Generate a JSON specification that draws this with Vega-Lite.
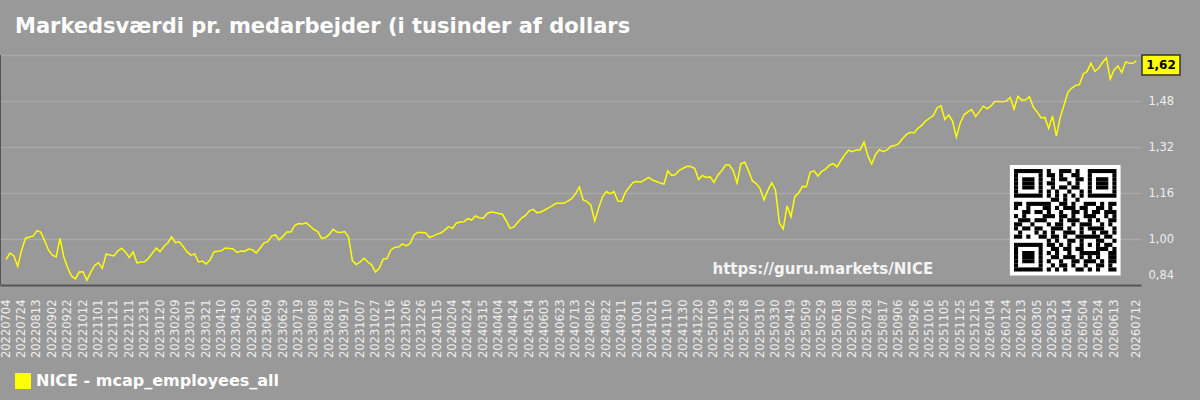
{
"$schema":"https://vega.github.io/schema/vega-lite/v6.json",
"width":1141,"height":230,
"autosize":{"type":"none"},
"padding":{"left":0,"top":55,"right":59,"bottom":115},
"background":"#999999",
"title":{"text":"Markedsværdi pr. medarbejder (i tusinder af dollars","anchor":"start","frame":"group","dx":15,"offset":15,"fontSize":21,"font":"DejaVu Sans","fontWeight":"bold","color":"#ffffff"},
"config":{"view":{"stroke":null},"font":"DejaVu Sans",
"axisX":{"labelOverlap":false,"labelFlush":false,"labelBound":false,"labelAngle":270,"labelFontSize":11.5,"labelColor":"#eeeeee","labelPadding":14,"ticks":false,"grid":false,"domainColor":"#555555","domainWidth":2,"title":null,"tickCount":200},
"axisY":{"title":null,"grid":true,"gridColor":"#a9a9a9","gridWidth":1.5,"domain":false,"ticks":false,"labelPadding":7,"labelFontSize":11.5,"labelColor":"#eeeeee","labelFlush":true,"labelFlushOffset":-5}
},
"datasets":{
"nice":[
{"date":"2022-07-04","value":0.929},{"date":"2022-07-09","value":0.951},{"date":"2022-07-14","value":0.941},{"date":"2022-07-19","value":0.905},{"date":"2022-07-24","value":0.960},{"date":"2022-07-29","value":1.002},{"date":"2022-08-03","value":1.007},{"date":"2022-08-08","value":1.010},{"date":"2022-08-13","value":1.029},{"date":"2022-08-18","value":1.024},{"date":"2022-08-23","value":0.994},{"date":"2022-08-28","value":0.962},{"date":"2022-09-02","value":0.944},{"date":"2022-09-07","value":0.938},{"date":"2022-09-12","value":1.002},{"date":"2022-09-17","value":0.937},{"date":"2022-09-22","value":0.899},{"date":"2022-09-27","value":0.871},{"date":"2022-10-02","value":0.861},{"date":"2022-10-07","value":0.885},{"date":"2022-10-12","value":0.886},{"date":"2022-10-17","value":0.857},{"date":"2022-10-22","value":0.885},{"date":"2022-10-27","value":0.908},{"date":"2022-11-01","value":0.917},{"date":"2022-11-06","value":0.898},{"date":"2022-11-11","value":0.948},{"date":"2022-11-16","value":0.944},{"date":"2022-11-21","value":0.941},{"date":"2022-11-26","value":0.958},{"date":"2022-12-01","value":0.968},{"date":"2022-12-06","value":0.955},{"date":"2022-12-11","value":0.936},{"date":"2022-12-16","value":0.955},{"date":"2022-12-21","value":0.917},{"date":"2022-12-26","value":0.920},{"date":"2022-12-31","value":0.921},
{"date":"2023-01-05","value":0.933},{"date":"2023-01-10","value":0.951},{"date":"2023-01-15","value":0.968},{"date":"2023-01-20","value":0.956},{"date":"2023-01-25","value":0.974},{"date":"2023-01-30","value":0.986},{"date":"2023-02-04","value":1.007},{"date":"2023-02-09","value":0.987},{"date":"2023-02-14","value":0.990},{"date":"2023-02-19","value":0.974},{"date":"2023-02-24","value":0.956},{"date":"2023-03-01","value":0.944},{"date":"2023-03-06","value":0.948},{"date":"2023-03-11","value":0.920},{"date":"2023-03-16","value":0.923},{"date":"2023-03-21","value":0.913},{"date":"2023-03-26","value":0.927},{"date":"2023-03-31","value":0.955},{"date":"2023-04-05","value":0.957},{"date":"2023-04-10","value":0.960},{"date":"2023-04-15","value":0.969},{"date":"2023-04-20","value":0.967},{"date":"2023-04-25","value":0.965},{"date":"2023-04-30","value":0.953},{"date":"2023-05-05","value":0.958},{"date":"2023-05-10","value":0.957},{"date":"2023-05-15","value":0.965},{"date":"2023-05-20","value":0.963},{"date":"2023-05-25","value":0.951},{"date":"2023-05-30","value":0.968},{"date":"2023-06-04","value":0.986},{"date":"2023-06-09","value":0.991},{"date":"2023-06-14","value":1.010},{"date":"2023-06-19","value":1.014},{"date":"2023-06-24","value":0.997},{"date":"2023-06-29","value":1.010},{"date":"2023-07-04","value":1.024},{"date":"2023-07-09","value":1.024},{"date":"2023-07-14","value":1.047},{"date":"2023-07-19","value":1.054},{"date":"2023-07-24","value":1.052},{"date":"2023-07-29","value":1.056},{"date":"2023-08-03","value":1.045},{"date":"2023-08-08","value":1.033},{"date":"2023-08-13","value":1.026},{"date":"2023-08-18","value":1.002},{"date":"2023-08-23","value":1.005},{"date":"2023-08-28","value":1.016},{"date":"2023-09-02","value":1.034},{"date":"2023-09-07","value":1.024},{"date":"2023-09-12","value":1.023},{"date":"2023-09-17","value":1.026},{"date":"2023-09-22","value":1.007},{"date":"2023-09-27","value":0.925},{"date":"2023-10-02","value":0.911},{"date":"2023-10-07","value":0.920},{"date":"2023-10-12","value":0.933},{"date":"2023-10-17","value":0.920},{"date":"2023-10-22","value":0.910},{"date":"2023-10-27","value":0.885},{"date":"2023-11-01","value":0.899},{"date":"2023-11-06","value":0.930},{"date":"2023-11-11","value":0.932},{"date":"2023-11-16","value":0.962},{"date":"2023-11-21","value":0.971},{"date":"2023-11-26","value":0.972},{"date":"2023-12-01","value":0.983},{"date":"2023-12-06","value":0.976},{"date":"2023-12-11","value":0.984},{"date":"2023-12-16","value":1.014},{"date":"2023-12-21","value":1.023},{"date":"2023-12-26","value":1.023},{"date":"2023-12-31","value":1.022},
{"date":"2024-01-05","value":1.006},{"date":"2024-01-10","value":1.010},{"date":"2024-01-15","value":1.017},{"date":"2024-01-20","value":1.021},{"date":"2024-01-25","value":1.031},{"date":"2024-01-30","value":1.043},{"date":"2024-02-04","value":1.037},{"date":"2024-02-09","value":1.055},{"date":"2024-02-14","value":1.059},{"date":"2024-02-19","value":1.060},{"date":"2024-02-24","value":1.071},{"date":"2024-02-29","value":1.066},{"date":"2024-03-05","value":1.080},{"date":"2024-03-10","value":1.074},{"date":"2024-03-15","value":1.072},{"date":"2024-03-20","value":1.088},{"date":"2024-03-25","value":1.094},{"date":"2024-03-30","value":1.092},{"date":"2024-04-04","value":1.089},{"date":"2024-04-09","value":1.086},{"date":"2024-04-14","value":1.063},{"date":"2024-04-19","value":1.037},{"date":"2024-04-24","value":1.042},{"date":"2024-04-29","value":1.058},{"date":"2024-05-04","value":1.073},{"date":"2024-05-09","value":1.082},{"date":"2024-05-14","value":1.098},{"date":"2024-05-19","value":1.103},{"date":"2024-05-24","value":1.091},{"date":"2024-05-29","value":1.094},{"date":"2024-06-03","value":1.101},{"date":"2024-06-08","value":1.108},{"date":"2024-06-13","value":1.116},{"date":"2024-06-18","value":1.124},{"date":"2024-06-23","value":1.124},{"date":"2024-06-28","value":1.124},{"date":"2024-07-03","value":1.132},{"date":"2024-07-08","value":1.140},{"date":"2024-07-13","value":1.157},{"date":"2024-07-18","value":1.181},{"date":"2024-07-23","value":1.136},{"date":"2024-07-28","value":1.130},{"date":"2024-08-02","value":1.118},{"date":"2024-08-07","value":1.063},{"date":"2024-08-12","value":1.107},{"date":"2024-08-17","value":1.146},{"date":"2024-08-22","value":1.165},{"date":"2024-08-27","value":1.158},{"date":"2024-09-01","value":1.165},{"date":"2024-09-06","value":1.132},{"date":"2024-09-11","value":1.131},{"date":"2024-09-16","value":1.163},{"date":"2024-09-21","value":1.181},{"date":"2024-09-26","value":1.197},{"date":"2024-10-01","value":1.200},{"date":"2024-10-06","value":1.198},{"date":"2024-10-11","value":1.206},{"date":"2024-10-16","value":1.214},{"date":"2024-10-21","value":1.205},{"date":"2024-10-26","value":1.200},{"date":"2024-10-31","value":1.195},{"date":"2024-11-05","value":1.191},{"date":"2024-11-10","value":1.237},{"date":"2024-11-15","value":1.221},{"date":"2024-11-20","value":1.224},{"date":"2024-11-25","value":1.239},{"date":"2024-11-30","value":1.246},{"date":"2024-12-05","value":1.253},{"date":"2024-12-10","value":1.252},{"date":"2024-12-15","value":1.245},{"date":"2024-12-20","value":1.207},{"date":"2024-12-25","value":1.221},{"date":"2024-12-30","value":1.214},
{"date":"2025-01-04","value":1.216},{"date":"2025-01-09","value":1.197},{"date":"2025-01-14","value":1.222},{"date":"2025-01-19","value":1.237},{"date":"2025-01-24","value":1.257},{"date":"2025-01-29","value":1.257},{"date":"2025-02-03","value":1.237},{"date":"2025-02-08","value":1.195},{"date":"2025-02-13","value":1.262},{"date":"2025-02-18","value":1.267},{"date":"2025-02-23","value":1.237},{"date":"2025-02-28","value":1.202},{"date":"2025-03-05","value":1.193},{"date":"2025-03-10","value":1.175},{"date":"2025-03-15","value":1.136},{"date":"2025-03-20","value":1.169},{"date":"2025-03-25","value":1.195},{"date":"2025-03-30","value":1.170},{"date":"2025-04-04","value":1.056},{"date":"2025-04-09","value":1.035},{"date":"2025-04-14","value":1.115},{"date":"2025-04-19","value":1.077},{"date":"2025-04-24","value":1.147},{"date":"2025-04-29","value":1.160},{"date":"2025-05-04","value":1.183},{"date":"2025-05-09","value":1.182},{"date":"2025-05-14","value":1.232},{"date":"2025-05-19","value":1.237},{"date":"2025-05-24","value":1.219},{"date":"2025-05-29","value":1.235},{"date":"2025-06-03","value":1.243},{"date":"2025-06-08","value":1.257},{"date":"2025-06-13","value":1.262},{"date":"2025-06-18","value":1.251},{"date":"2025-06-23","value":1.273},{"date":"2025-06-28","value":1.293},{"date":"2025-07-03","value":1.309},{"date":"2025-07-08","value":1.304},{"date":"2025-07-13","value":1.310},{"date":"2025-07-18","value":1.310},{"date":"2025-07-23","value":1.337},{"date":"2025-07-28","value":1.289},{"date":"2025-08-02","value":1.261},{"date":"2025-08-07","value":1.294},{"date":"2025-08-12","value":1.311},{"date":"2025-08-17","value":1.304},{"date":"2025-08-22","value":1.310},{"date":"2025-08-27","value":1.323},{"date":"2025-09-01","value":1.325},{"date":"2025-09-06","value":1.332},{"date":"2025-09-11","value":1.349},{"date":"2025-09-16","value":1.363},{"date":"2025-09-21","value":1.371},{"date":"2025-09-26","value":1.369},{"date":"2025-10-01","value":1.385},{"date":"2025-10-06","value":1.395},{"date":"2025-10-11","value":1.410},{"date":"2025-10-16","value":1.420},{"date":"2025-10-21","value":1.429},{"date":"2025-10-26","value":1.456},{"date":"2025-10-31","value":1.463},{"date":"2025-11-05","value":1.416},{"date":"2025-11-10","value":1.431},{"date":"2025-11-15","value":1.410},{"date":"2025-11-20","value":1.355},{"date":"2025-11-25","value":1.403},{"date":"2025-11-30","value":1.432},{"date":"2025-12-05","value":1.442},{"date":"2025-12-10","value":1.450},{"date":"2025-12-15","value":1.426},{"date":"2025-12-20","value":1.443},{"date":"2025-12-25","value":1.462},{"date":"2025-12-30","value":1.453},
{"date":"2026-01-04","value":1.463},{"date":"2026-01-09","value":1.478},{"date":"2026-01-14","value":1.478},{"date":"2026-01-19","value":1.477},{"date":"2026-01-24","value":1.480},{"date":"2026-01-29","value":1.492},{"date":"2026-02-03","value":1.452},{"date":"2026-02-08","value":1.496},{"date":"2026-02-13","value":1.483},{"date":"2026-02-18","value":1.484},{"date":"2026-02-23","value":1.495},{"date":"2026-02-28","value":1.459},{"date":"2026-03-05","value":1.442},{"date":"2026-03-10","value":1.422},{"date":"2026-03-15","value":1.423},{"date":"2026-03-20","value":1.385},{"date":"2026-03-25","value":1.428},{"date":"2026-03-30","value":1.358},{"date":"2026-04-04","value":1.423},{"date":"2026-04-09","value":1.466},{"date":"2026-04-14","value":1.511},{"date":"2026-04-19","value":1.525},{"date":"2026-04-24","value":1.534},{"date":"2026-04-29","value":1.537},{"date":"2026-05-04","value":1.574},{"date":"2026-05-09","value":1.583},{"date":"2026-05-14","value":1.611},{"date":"2026-05-19","value":1.583},{"date":"2026-05-24","value":1.594},{"date":"2026-05-29","value":1.614},{"date":"2026-06-03","value":1.630},{"date":"2026-06-08","value":1.556},{"date":"2026-06-13","value":1.588},{"date":"2026-06-18","value":1.602},{"date":"2026-06-23","value":1.579},{"date":"2026-06-28","value":1.616},{"date":"2026-07-03","value":1.611},{"date":"2026-07-08","value":1.612},{"date":"2026-07-12","value":1.620}
],
"last":[{"date":"2026-07-12","value":1.62,"label":"1,62"}],
"qr":[
{"c0":-1,"c1":26,"r0":-1,"r1":26,"k":"light"},
{"c0":0,"c1":7,"r0":0,"r1":1,"k":"dark"},{"c0":8,"c1":9,"r0":0,"r1":1,"k":"dark"},{"c0":11,"c1":14,"r0":0,"r1":1,"k":"dark"},{"c0":15,"c1":16,"r0":0,"r1":1,"k":"dark"},{"c0":18,"c1":25,"r0":0,"r1":1,"k":"dark"},
{"c0":0,"c1":1,"r0":1,"r1":2,"k":"dark"},{"c0":6,"c1":7,"r0":1,"r1":2,"k":"dark"},{"c0":8,"c1":10,"r0":1,"r1":2,"k":"dark"},{"c0":11,"c1":12,"r0":1,"r1":2,"k":"dark"},{"c0":14,"c1":16,"r0":1,"r1":2,"k":"dark"},{"c0":18,"c1":19,"r0":1,"r1":2,"k":"dark"},{"c0":24,"c1":25,"r0":1,"r1":2,"k":"dark"},
{"c0":0,"c1":1,"r0":2,"r1":3,"k":"dark"},{"c0":2,"c1":5,"r0":2,"r1":3,"k":"dark"},{"c0":6,"c1":7,"r0":2,"r1":3,"k":"dark"},{"c0":9,"c1":10,"r0":2,"r1":3,"k":"dark"},{"c0":11,"c1":13,"r0":2,"r1":3,"k":"dark"},{"c0":15,"c1":17,"r0":2,"r1":3,"k":"dark"},{"c0":18,"c1":19,"r0":2,"r1":3,"k":"dark"},{"c0":20,"c1":23,"r0":2,"r1":3,"k":"dark"},{"c0":24,"c1":25,"r0":2,"r1":3,"k":"dark"},
{"c0":0,"c1":1,"r0":3,"r1":4,"k":"dark"},{"c0":2,"c1":5,"r0":3,"r1":4,"k":"dark"},{"c0":6,"c1":7,"r0":3,"r1":4,"k":"dark"},{"c0":8,"c1":10,"r0":3,"r1":4,"k":"dark"},{"c0":13,"c1":14,"r0":3,"r1":4,"k":"dark"},{"c0":15,"c1":16,"r0":3,"r1":4,"k":"dark"},{"c0":18,"c1":19,"r0":3,"r1":4,"k":"dark"},{"c0":20,"c1":23,"r0":3,"r1":4,"k":"dark"},{"c0":24,"c1":25,"r0":3,"r1":4,"k":"dark"},
{"c0":0,"c1":1,"r0":4,"r1":5,"k":"dark"},{"c0":2,"c1":5,"r0":4,"r1":5,"k":"dark"},{"c0":6,"c1":7,"r0":4,"r1":5,"k":"dark"},{"c0":9,"c1":10,"r0":4,"r1":5,"k":"dark"},{"c0":11,"c1":13,"r0":4,"r1":5,"k":"dark"},{"c0":14,"c1":16,"r0":4,"r1":5,"k":"dark"},{"c0":18,"c1":19,"r0":4,"r1":5,"k":"dark"},{"c0":20,"c1":23,"r0":4,"r1":5,"k":"dark"},{"c0":24,"c1":25,"r0":4,"r1":5,"k":"dark"},
{"c0":0,"c1":1,"r0":5,"r1":6,"k":"dark"},{"c0":6,"c1":7,"r0":5,"r1":6,"k":"dark"},{"c0":8,"c1":9,"r0":5,"r1":6,"k":"dark"},{"c0":10,"c1":11,"r0":5,"r1":6,"k":"dark"},{"c0":13,"c1":14,"r0":5,"r1":6,"k":"dark"},{"c0":16,"c1":17,"r0":5,"r1":6,"k":"dark"},{"c0":18,"c1":19,"r0":5,"r1":6,"k":"dark"},{"c0":24,"c1":25,"r0":5,"r1":6,"k":"dark"},
{"c0":0,"c1":7,"r0":6,"r1":7,"k":"dark"},{"c0":8,"c1":9,"r0":6,"r1":7,"k":"dark"},{"c0":10,"c1":11,"r0":6,"r1":7,"k":"dark"},{"c0":12,"c1":13,"r0":6,"r1":7,"k":"dark"},{"c0":14,"c1":15,"r0":6,"r1":7,"k":"dark"},{"c0":16,"c1":17,"r0":6,"r1":7,"k":"dark"},{"c0":18,"c1":25,"r0":6,"r1":7,"k":"dark"},
{"c0":9,"c1":11,"r0":7,"r1":8,"k":"dark"},{"c0":12,"c1":13,"r0":7,"r1":8,"k":"dark"},{"c0":15,"c1":16,"r0":7,"r1":8,"k":"dark"},
{"c0":0,"c1":2,"r0":8,"r1":9,"k":"dark"},{"c0":3,"c1":9,"r0":8,"r1":9,"k":"dark"},{"c0":11,"c1":13,"r0":8,"r1":9,"k":"dark"},{"c0":14,"c1":15,"r0":8,"r1":9,"k":"dark"},{"c0":17,"c1":20,"r0":8,"r1":9,"k":"dark"},{"c0":21,"c1":22,"r0":8,"r1":9,"k":"dark"},{"c0":23,"c1":25,"r0":8,"r1":9,"k":"dark"},
{"c0":0,"c1":1,"r0":9,"r1":10,"k":"dark"},{"c0":3,"c1":4,"r0":9,"r1":10,"k":"dark"},{"c0":7,"c1":9,"r0":9,"r1":10,"k":"dark"},{"c0":10,"c1":11,"r0":9,"r1":10,"k":"dark"},{"c0":12,"c1":15,"r0":9,"r1":10,"k":"dark"},{"c0":16,"c1":18,"r0":9,"r1":10,"k":"dark"},{"c0":20,"c1":22,"r0":9,"r1":10,"k":"dark"},{"c0":23,"c1":24,"r0":9,"r1":10,"k":"dark"},
{"c0":2,"c1":4,"r0":10,"r1":11,"k":"dark"},{"c0":5,"c1":7,"r0":10,"r1":11,"k":"dark"},{"c0":8,"c1":9,"r0":10,"r1":11,"k":"dark"},{"c0":11,"c1":12,"r0":10,"r1":11,"k":"dark"},{"c0":14,"c1":16,"r0":10,"r1":11,"k":"dark"},{"c0":17,"c1":18,"r0":10,"r1":11,"k":"dark"},{"c0":19,"c1":21,"r0":10,"r1":11,"k":"dark"},{"c0":22,"c1":25,"r0":10,"r1":11,"k":"dark"},
{"c0":0,"c1":1,"r0":11,"r1":12,"k":"dark"},{"c0":2,"c1":3,"r0":11,"r1":12,"k":"dark"},{"c0":7,"c1":10,"r0":11,"r1":12,"k":"dark"},{"c0":11,"c1":13,"r0":11,"r1":12,"k":"dark"},{"c0":14,"c1":15,"r0":11,"r1":12,"k":"dark"},{"c0":17,"c1":20,"r0":11,"r1":12,"k":"dark"},{"c0":22,"c1":23,"r0":11,"r1":12,"k":"dark"},{"c0":24,"c1":25,"r0":11,"r1":12,"k":"dark"},
{"c0":1,"c1":4,"r0":12,"r1":13,"k":"dark"},{"c0":5,"c1":8,"r0":12,"r1":13,"k":"dark"},{"c0":11,"c1":12,"r0":12,"r1":13,"k":"dark"},{"c0":13,"c1":16,"r0":12,"r1":13,"k":"dark"},{"c0":18,"c1":19,"r0":12,"r1":13,"k":"dark"},{"c0":20,"c1":21,"r0":12,"r1":13,"k":"dark"},{"c0":23,"c1":25,"r0":12,"r1":13,"k":"dark"},
{"c0":0,"c1":2,"r0":13,"r1":14,"k":"dark"},{"c0":4,"c1":5,"r0":13,"r1":14,"k":"dark"},{"c0":8,"c1":9,"r0":13,"r1":14,"k":"dark"},{"c0":10,"c1":12,"r0":13,"r1":14,"k":"dark"},{"c0":14,"c1":15,"r0":13,"r1":14,"k":"dark"},{"c0":16,"c1":19,"r0":13,"r1":14,"k":"dark"},{"c0":21,"c1":22,"r0":13,"r1":14,"k":"dark"},{"c0":23,"c1":24,"r0":13,"r1":14,"k":"dark"},
{"c0":0,"c1":1,"r0":14,"r1":15,"k":"dark"},{"c0":2,"c1":4,"r0":14,"r1":15,"k":"dark"},{"c0":5,"c1":7,"r0":14,"r1":15,"k":"dark"},{"c0":9,"c1":12,"r0":14,"r1":15,"k":"dark"},{"c0":13,"c1":14,"r0":14,"r1":15,"k":"dark"},{"c0":16,"c1":17,"r0":14,"r1":15,"k":"dark"},{"c0":18,"c1":22,"r0":14,"r1":15,"k":"dark"},{"c0":24,"c1":25,"r0":14,"r1":15,"k":"dark"},
{"c0":1,"c1":2,"r0":15,"r1":16,"k":"dark"},{"c0":5,"c1":6,"r0":15,"r1":16,"k":"dark"},{"c0":7,"c1":8,"r0":15,"r1":16,"k":"dark"},{"c0":9,"c1":10,"r0":15,"r1":16,"k":"dark"},{"c0":12,"c1":15,"r0":15,"r1":16,"k":"dark"},{"c0":16,"c1":17,"r0":15,"r1":16,"k":"dark"},{"c0":19,"c1":20,"r0":15,"r1":16,"k":"dark"},{"c0":21,"c1":23,"r0":15,"r1":16,"k":"dark"},{"c0":24,"c1":25,"r0":15,"r1":16,"k":"dark"},
{"c0":0,"c1":2,"r0":16,"r1":17,"k":"dark"},{"c0":3,"c1":4,"r0":16,"r1":17,"k":"dark"},{"c0":6,"c1":8,"r0":16,"r1":17,"k":"dark"},{"c0":9,"c1":11,"r0":16,"r1":17,"k":"dark"},{"c0":12,"c1":13,"r0":16,"r1":17,"k":"dark"},{"c0":15,"c1":21,"r0":16,"r1":17,"k":"dark"},{"c0":22,"c1":24,"r0":16,"r1":17,"k":"dark"},
{"c0":8,"c1":9,"r0":17,"r1":18,"k":"dark"},{"c0":10,"c1":11,"r0":17,"r1":18,"k":"dark"},{"c0":13,"c1":15,"r0":17,"r1":18,"k":"dark"},{"c0":16,"c1":17,"r0":17,"r1":18,"k":"dark"},{"c0":20,"c1":22,"r0":17,"r1":18,"k":"dark"},{"c0":24,"c1":25,"r0":17,"r1":18,"k":"dark"},
{"c0":0,"c1":7,"r0":18,"r1":19,"k":"dark"},{"c0":8,"c1":10,"r0":18,"r1":19,"k":"dark"},{"c0":11,"c1":12,"r0":18,"r1":19,"k":"dark"},{"c0":13,"c1":14,"r0":18,"r1":19,"k":"dark"},{"c0":16,"c1":17,"r0":18,"r1":19,"k":"dark"},{"c0":18,"c1":19,"r0":18,"r1":19,"k":"dark"},{"c0":20,"c1":21,"r0":18,"r1":19,"k":"dark"},{"c0":22,"c1":24,"r0":18,"r1":19,"k":"dark"},
{"c0":0,"c1":1,"r0":19,"r1":20,"k":"dark"},{"c0":6,"c1":7,"r0":19,"r1":20,"k":"dark"},{"c0":9,"c1":11,"r0":19,"r1":20,"k":"dark"},{"c0":12,"c1":14,"r0":19,"r1":20,"k":"dark"},{"c0":15,"c1":17,"r0":19,"r1":20,"k":"dark"},{"c0":20,"c1":23,"r0":19,"r1":20,"k":"dark"},{"c0":24,"c1":25,"r0":19,"r1":20,"k":"dark"},
{"c0":0,"c1":1,"r0":20,"r1":21,"k":"dark"},{"c0":2,"c1":5,"r0":20,"r1":21,"k":"dark"},{"c0":6,"c1":7,"r0":20,"r1":21,"k":"dark"},{"c0":8,"c1":9,"r0":20,"r1":21,"k":"dark"},{"c0":10,"c1":11,"r0":20,"r1":21,"k":"dark"},{"c0":13,"c1":14,"r0":20,"r1":21,"k":"dark"},{"c0":16,"c1":21,"r0":20,"r1":21,"k":"dark"},{"c0":23,"c1":25,"r0":20,"r1":21,"k":"dark"},
{"c0":0,"c1":1,"r0":21,"r1":22,"k":"dark"},{"c0":2,"c1":5,"r0":21,"r1":22,"k":"dark"},{"c0":6,"c1":7,"r0":21,"r1":22,"k":"dark"},{"c0":9,"c1":11,"r0":21,"r1":22,"k":"dark"},{"c0":12,"c1":15,"r0":21,"r1":22,"k":"dark"},{"c0":16,"c1":17,"r0":21,"r1":22,"k":"dark"},{"c0":18,"c1":19,"r0":21,"r1":22,"k":"dark"},{"c0":20,"c1":21,"r0":21,"r1":22,"k":"dark"},{"c0":23,"c1":25,"r0":21,"r1":22,"k":"dark"},
{"c0":0,"c1":1,"r0":22,"r1":23,"k":"dark"},{"c0":2,"c1":5,"r0":22,"r1":23,"k":"dark"},{"c0":6,"c1":7,"r0":22,"r1":23,"k":"dark"},{"c0":8,"c1":9,"r0":22,"r1":23,"k":"dark"},{"c0":11,"c1":12,"r0":22,"r1":23,"k":"dark"},{"c0":14,"c1":16,"r0":22,"r1":23,"k":"dark"},{"c0":17,"c1":20,"r0":22,"r1":23,"k":"dark"},{"c0":21,"c1":22,"r0":22,"r1":23,"k":"dark"},{"c0":23,"c1":25,"r0":22,"r1":23,"k":"dark"},
{"c0":0,"c1":1,"r0":23,"r1":24,"k":"dark"},{"c0":6,"c1":7,"r0":23,"r1":24,"k":"dark"},{"c0":9,"c1":10,"r0":23,"r1":24,"k":"dark"},{"c0":11,"c1":13,"r0":23,"r1":24,"k":"dark"},{"c0":14,"c1":15,"r0":23,"r1":24,"k":"dark"},{"c0":17,"c1":18,"r0":23,"r1":24,"k":"dark"},{"c0":20,"c1":22,"r0":23,"r1":24,"k":"dark"},{"c0":23,"c1":24,"r0":23,"r1":24,"k":"dark"},
{"c0":0,"c1":7,"r0":24,"r1":25,"k":"dark"},{"c0":8,"c1":9,"r0":24,"r1":25,"k":"dark"},{"c0":10,"c1":11,"r0":24,"r1":25,"k":"dark"},{"c0":12,"c1":13,"r0":24,"r1":25,"k":"dark"},{"c0":15,"c1":17,"r0":24,"r1":25,"k":"dark"},{"c0":18,"c1":19,"r0":24,"r1":25,"k":"dark"},{"c0":20,"c1":21,"r0":24,"r1":25,"k":"dark"},{"c0":23,"c1":25,"r0":24,"r1":25,"k":"dark"}
]
},
"layer":[
{
"layer":[
{
"data":{"name":"nice"},
"mark":{"type":"line","strokeWidth":1.5},
"encoding":{
"x":{"field":"date","type":"temporal","scale":{"type":"utc","domain":[{"year":2022,"month":6,"date":26,"utc":true},{"year":2026,"month":7,"date":18,"utc":true}]},
"axis":{"title":null,"tickCount":200,"values":["2022-07-04","2022-07-24","2022-08-13","2022-09-02","2022-09-22","2022-10-12","2022-11-01","2022-11-21","2022-12-11","2022-12-31","2023-01-20","2023-02-09","2023-03-01","2023-03-21","2023-04-10","2023-04-30","2023-05-20","2023-06-09","2023-06-29","2023-07-19","2023-08-08","2023-08-28","2023-09-17","2023-10-07","2023-10-27","2023-11-16","2023-12-06","2023-12-26","2024-01-15","2024-02-04","2024-02-24","2024-03-15","2024-04-04","2024-04-24","2024-05-14","2024-06-03","2024-06-23","2024-07-13","2024-08-02","2024-08-22","2024-09-11","2024-10-01","2024-10-21","2024-11-10","2024-11-30","2024-12-20","2025-01-09","2025-01-29","2025-02-18","2025-03-10","2025-03-30","2025-04-19","2025-05-09","2025-05-29","2025-06-18","2025-07-08","2025-07-28","2025-08-17","2025-09-06","2025-09-26","2025-10-16","2025-11-05","2025-11-25","2025-12-15","2026-01-04","2026-01-24","2026-02-13","2026-03-05","2026-03-25","2026-04-14","2026-05-04","2026-05-24","2026-06-13","2026-07-12"],
"labelExpr":"utcFormat(datum.value, '%Y%m%d')","labelOverlap":false}},
"y":{"field":"value","type":"quantitative","scale":{"domain":[0.84,1.64],"nice":false,"zero":false},
"axis":{"orient":"right","values":[0.84,1.0,1.16,1.32,1.48,1.64],"labelExpr":"datum.value > 1.6 ? '' : replace(format(datum.value, '.2f'), '.', ',')"}},
"color":{"datum":"NICE - mcap_employees_all","scale":{"range":["#ffff00"]},
"legend":{"orient":"none","legendX":15,"legendY":318,"title":null,"symbolType":"square","symbolSize":256,"symbolFillColor":"#ffff00","symbolStrokeColor":"#ffff00","symbolStrokeWidth":0,"labelFontSize":16,"labelFontWeight":"bold","labelColor":"#ffffff","labelFont":"DejaVu Sans","labelOffset":5,"labelLimit":500}}
}
},
{
"data":{"values":[{"a":1}]},
"mark":{"type":"rule","color":"#555555","strokeWidth":2},
"encoding":{"x":{"datum":{"year":2022,"month":6,"date":26,"utc":true},"type":"temporal"}}
},
{
"data":{"values":[{"t":"https://guru.markets/NICE"}]},
"mark":{"type":"text","align":"left","baseline":"alphabetic","fontSize":15,"fontWeight":"bold","color":"#f4f4f4"},
"encoding":{"x":{"datum":{"year":2025,"month":1,"date":7,"utc":true},"type":"temporal"},"y":{"datum":0.878,"type":"quantitative"},"text":{"field":"t"}}
},
{
"data":{"name":"last"},
"mark":{"type":"point","shape":"M-1,-0.526H1V0.526H-1Z","size":1444,"filled":true,"fill":"#ffff00","stroke":"#333333","strokeWidth":1.5,"opacity":1,"xOffset":24.6,"yOffset":4.3},
"encoding":{"x":{"field":"date","type":"temporal"},"y":{"field":"value","type":"quantitative"}}
},
{
"data":{"name":"last"},
"mark":{"type":"text","dx":24.6,"dy":4.5,"fontSize":12,"fontWeight":"bold","color":"#000000","align":"center","baseline":"middle"},
"encoding":{"x":{"field":"date","type":"temporal"},"y":{"field":"value","type":"quantitative"},"text":{"field":"label"}}
}
]
},
{
"data":{"name":"qr"},
"mark":{"type":"rect"},
"encoding":{
"x":{"field":"c0","type":"quantitative","scale":{"domain":[-247.32,30.98],"nice":false,"zero":false},"axis":null},
"x2":{"field":"c1"},
"y":{"field":"r0","type":"quantitative","scale":{"domain":[-27.80,28.29],"nice":false,"zero":false,"reverse":true},"axis":null},
"y2":{"field":"r1"},
"color":{"field":"k","type":"nominal","scale":{"domain":["light","dark"],"range":["#ffffff","#000000"]},"legend":null}
}
}
],
"resolve":{"scale":{"x":"independent","y":"independent","color":"independent"}}
}
